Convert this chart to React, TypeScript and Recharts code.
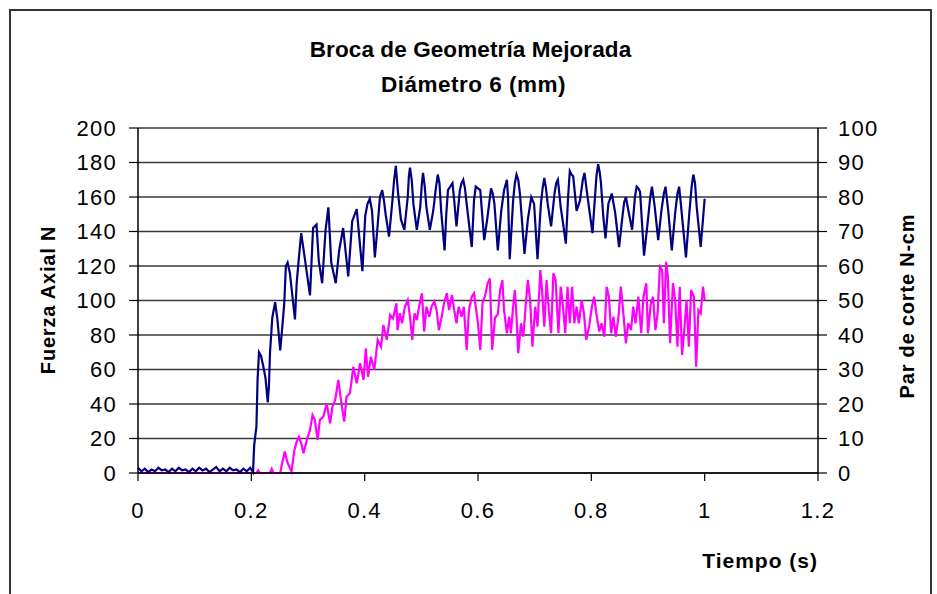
import React from "react";
import { LineChart, Line, XAxis, YAxis, CartesianGrid } from "recharts";

// ---- Text ----
const chartTitle = "Broca de Geometría Mejorada";
const chartSubtitle = "Diámetro 6 (mm)";
const xTitle = "Tiempo (s)";
const leftTitle = "Fuerza Axial N";
const rightTitle = "Par de corte N-cm";

// ---- Ticks ----
const xTicks = [0, 0.2, 0.4, 0.6, 0.8, 1, 1.2];
const leftTicks = [0, 20, 40, 60, 80, 100, 120, 140, 160, 180, 200];
const rightTicks = [0, 10, 20, 30, 40, 50, 60, 70, 80, 90, 100];

// ---- Fuerza Axial (N): [tiempo (s), fuerza] ----
const fuerzaAxial: [number, number][] = [
  [0, 3], [0.006, 1], [0.012, 2.5], [0.018, 0.5], [0.024, 2], [0.03, 1], [0.036, 3], [0.042, 1.5],
  [0.048, 2], [0.054, 0.5], [0.06, 2.5], [0.066, 1], [0.072, 3], [0.078, 1.5], [0.084, 2], [0.09, 0.5],
  [0.096, 2.5], [0.102, 1], [0.108, 3], [0.114, 1.5], [0.12, 2.5], [0.126, 0.5], [0.132, 2], [0.138, 3.5],
  [0.144, 1], [0.15, 2.5], [0.156, 1], [0.162, 3], [0.168, 1.5], [0.174, 2], [0.18, 0.5], [0.186, 2.5],
  [0.192, 1], [0.198, 3], [0.203, 0.5], [0.205, 16], [0.209, 27], [0.211, 54], [0.2135, 70], [0.217, 68],
  [0.221, 62], [0.225, 55], [0.229, 41], [0.231, 50], [0.233, 70], [0.237, 90], [0.242, 99], [0.246, 89],
  [0.251, 71], [0.255, 86], [0.258, 98], [0.261, 120], [0.264, 122], [0.268, 116], [0.272, 104], [0.277, 89],
  [0.28, 110], [0.284, 125], [0.288, 139], [0.295, 123], [0.3035, 103], [0.309, 142], [0.315, 144],
  [0.319, 123], [0.325, 110], [0.331, 141], [0.336, 154], [0.341, 122], [0.349, 110], [0.355, 129],
  [0.362, 142], [0.371, 114], [0.378, 146], [0.386, 153], [0.396, 117], [0.401, 149], [0.405, 156],
  [0.409, 159], [0.413, 152], [0.418, 125], [0.422, 140], [0.427, 160], [0.431, 164], [0.434, 158],
  [0.437, 150], [0.443, 137], [0.449, 158], [0.452, 170], [0.455, 178], [0.457, 170], [0.459, 162],
  [0.464, 147], [0.47, 141], [0.476, 160], [0.478, 172], [0.48, 177], [0.483, 170], [0.486, 156],
  [0.492, 141], [0.498, 154], [0.501, 168], [0.503, 174], [0.506, 166], [0.509, 154], [0.515, 141],
  [0.521, 152], [0.526, 166], [0.529, 173], [0.532, 168], [0.535, 152], [0.541, 129], [0.544, 150],
  [0.547, 164], [0.551, 166], [0.555, 168], [0.558, 158], [0.562, 143], [0.568, 164], [0.571, 168],
  [0.574, 170], [0.577, 165], [0.58, 156], [0.589, 131], [0.593, 158], [0.596, 166], [0.6, 165],
  [0.604, 164], [0.611, 135], [0.617, 149], [0.623, 165], [0.626, 162], [0.629, 156], [0.635, 129],
  [0.641, 152], [0.646, 164], [0.651, 170], [0.653, 160], [0.656, 124], [0.662, 158], [0.665, 168],
  [0.668, 173], [0.671, 170], [0.674, 162], [0.682, 127], [0.688, 147], [0.694, 160], [0.699, 156],
  [0.705, 124], [0.711, 156], [0.714, 165], [0.717, 171], [0.72, 165], [0.723, 156], [0.729, 143],
  [0.735, 162], [0.738, 168], [0.741, 170], [0.746, 154], [0.75, 145], [0.755, 133], [0.759, 160],
  [0.762, 175], [0.765, 173], [0.768, 172], [0.774, 152], [0.78, 158], [0.785, 170], [0.788, 174],
  [0.791, 166], [0.795, 156], [0.802, 139], [0.806, 158], [0.809, 172], [0.812, 179], [0.815, 174],
  [0.817, 168], [0.821, 149], [0.825, 136], [0.83, 156], [0.836, 162], [0.842, 151], [0.849, 131],
  [0.855, 149], [0.858, 157], [0.861, 160], [0.866, 151], [0.872, 141], [0.877, 160], [0.88, 166],
  [0.883, 165], [0.886, 163], [0.893, 126], [0.9, 147], [0.904, 160], [0.907, 166], [0.912, 154],
  [0.918, 135], [0.924, 153], [0.928, 162], [0.931, 166], [0.936, 151], [0.942, 129], [0.948, 151],
  [0.952, 162], [0.955, 166], [0.96, 149], [0.967, 125], [0.973, 151], [0.977, 166], [0.98, 173],
  [0.983, 168], [0.986, 154], [0.993, 131], [0.998, 151], [1.0, 159],
];

// ---- Par de corte (N-cm): [tiempo (s), par] ----
const parCorte: [number, number][] = [
  [0, 0], [0.05, 0], [0.1, 0], [0.15, 0], [0.2, 0], [0.209, 0], [0.212, 0.8], [0.215, 0], [0.233, 0],
  [0.236, 1.2], [0.239, 0], [0.251, 0], [0.255, 3.3], [0.259, 6.2], [0.264, 2.9], [0.271, 0.4],
  [0.276, 6.7], [0.28, 9.1], [0.284, 10.5], [0.288, 8.6], [0.292, 5.7], [0.298, 9.6], [0.3035, 12.5],
  [0.308, 16.8], [0.312, 15.4], [0.317, 9.6], [0.321, 15.4], [0.327, 16.3], [0.333, 20.2], [0.339, 14.4],
  [0.343, 19.2], [0.348, 21.2], [0.3535, 27], [0.359, 20.2], [0.364, 14.9], [0.368, 22.1], [0.374, 23.1],
  [0.38, 30.8], [0.386, 26], [0.392, 31.8], [0.398, 27], [0.402, 36.1], [0.406, 27.9], [0.411, 33.7],
  [0.417, 29.9], [0.423, 38.6], [0.429, 36.6], [0.433, 42.9], [0.439, 38.6], [0.445, 45.8], [0.45, 44.8],
  [0.456, 49.2], [0.458, 41.4], [0.462, 46.3], [0.466, 43.4], [0.471, 48.2], [0.476, 50.1], [0.48, 45.3],
  [0.484, 38.6], [0.488, 46.3], [0.492, 44.3], [0.496, 48.2], [0.501, 52.1], [0.505, 41], [0.509, 48.2],
  [0.514, 45.3], [0.518, 48.2], [0.523, 49.7], [0.527, 47.2], [0.531, 41.4], [0.536, 45.3], [0.54, 49.2],
  [0.545, 52.1], [0.549, 47.2], [0.554, 51.6], [0.558, 47.2], [0.562, 43.4], [0.566, 48.2], [0.571, 45.3],
  [0.575, 48.2], [0.58, 35.7], [0.584, 47.2], [0.589, 51.1], [0.593, 52.1], [0.596, 48.2], [0.6, 43.4],
  [0.604, 35.7], [0.608, 49.2], [0.612, 51.1], [0.617, 55], [0.621, 56.4], [0.625, 35.7], [0.63, 45],
  [0.635, 46], [0.639, 53], [0.643, 55.9], [0.646, 47.2], [0.651, 40.5], [0.655, 45.3], [0.658, 40.5],
  [0.662, 48.2], [0.665, 53], [0.668, 45.3], [0.671, 34.7], [0.676, 43.4], [0.68, 39.5], [0.684, 48.2],
  [0.688, 55.9], [0.692, 50.1], [0.696, 36.6], [0.701, 48.2], [0.705, 42.4], [0.71, 58.8], [0.713, 53],
  [0.717, 42.4], [0.721, 55.9], [0.725, 47.2], [0.729, 40.5], [0.733, 57.9], [0.737, 55.9], [0.742, 40.5],
  [0.746, 54], [0.75, 48.2], [0.754, 40.5], [0.758, 54], [0.762, 43.4], [0.766, 54], [0.77, 43.4],
  [0.774, 48.2], [0.778, 43.4], [0.783, 50.1], [0.787, 46.3], [0.791, 38.6], [0.796, 42.4], [0.801, 48.2],
  [0.805, 51.1], [0.809, 46], [0.814, 41], [0.818, 43.4], [0.823, 39.5], [0.827, 54], [0.831, 51.1],
  [0.835, 40.5], [0.839, 45.3], [0.843, 39.5], [0.848, 45.3], [0.852, 54], [0.856, 47.2], [0.861, 37.6],
  [0.865, 43.4], [0.87, 41.4], [0.874, 48.2], [0.878, 43.4], [0.883, 51.1], [0.888, 40.5], [0.892, 51.1],
  [0.897, 55], [0.9, 40.5], [0.905, 49.2], [0.909, 51.1], [0.913, 41.4], [0.917, 46.3], [0.921, 59.8],
  [0.925, 58.8], [0.928, 43.4], [0.932, 61.2], [0.935, 56.9], [0.939, 37.6], [0.944, 55], [0.948, 50.1],
  [0.952, 36.6], [0.956, 54], [0.96, 34.2], [0.964, 41.4], [0.968, 50.1], [0.972, 36.6], [0.976, 53],
  [0.981, 51.1], [0.985, 30.8], [0.989, 47.2], [0.993, 46.3], [0.997, 54], [1.0, 50.1],
];

const fuerzaData = fuerzaAxial.map(([t, v]) => ({ t, v }));
const parData = parCorte.map(([t, v]) => ({ t, v }));

const FONT = "'Liberation Sans', Arial, sans-serif";

const LeftTick = (props: any) => {
  const { x, y, payload } = props;
  return (
    <text x={x} y={y} dy="0.36em" textAnchor="end" fontFamily={FONT} fontSize={22} letterSpacing={1.3} fill="#000">
      {String(payload.value)}
    </text>
  );
};
const RightTick = (props: any) => {
  const { x, y, payload } = props;
  return (
    <text x={x} y={y} dy="0.36em" textAnchor="start" fontFamily={FONT} fontSize={22} letterSpacing={1.3} fill="#000">
      {String(payload.value)}
    </text>
  );
};
const BottomTick = (props: any) => {
  const { x, y, payload } = props;
  return (
    <text x={x} y={y} dy="0.71em" textAnchor="middle" fontFamily={FONT} fontSize={22} letterSpacing={1.3} fill="#000">
      {String(payload.value)}
    </text>
  );
};

const boldText: React.CSSProperties = {
  position: "absolute",
  fontFamily: FONT,
  fontWeight: "bold",
  color: "#000",
  whiteSpace: "nowrap",
  lineHeight: 1,
};

export default function App() {
  return (
    <div
      style={{
        position: "absolute",
        left: 0,
        top: 0,
        width: 937,
        height: 594,
        overflow: "hidden",
        background: "#fff",
      }}
    >
      <div
        style={{
          position: "absolute",
          left: 9,
          top: 9,
          width: 919,
          height: 700,
          border: "2px solid #333",
        }}
      />
      <LineChart
        width={937}
        height={594}
        margin={{ top: 128, right: 20, bottom: 61, left: 20 }}
        style={{ position: "absolute", left: 0, top: 0 }}
      >
        <CartesianGrid yAxisId="left" vertical={false} stroke="#3a3a3a" strokeWidth={1.3} />
        <XAxis
          type="number"
          dataKey="t"
          domain={[0, 1.2]}
          ticks={xTicks}
          height={60}
          tickSize={8}
          tickMargin={21}
          axisLine={{ stroke: "#000", strokeWidth: 1.5 }}
          tickLine={{ stroke: "#000", strokeWidth: 1.2 }}
          tick={<BottomTick />}
          interval={0}
        />
        <YAxis
          yAxisId="left"
          type="number"
          domain={[0, 200]}
          ticks={leftTicks}
          width={118}
          tickSize={9}
          tickMargin={12}
          axisLine={{ stroke: "#000", strokeWidth: 1.5 }}
          tickLine={{ stroke: "#000", strokeWidth: 1.2 }}
          tick={<LeftTick />}
          interval={0}
        />
        <YAxis
          yAxisId="right"
          orientation="right"
          type="number"
          domain={[0, 100]}
          ticks={rightTicks}
          width={99}
          tickSize={9}
          tickMargin={11}
          axisLine={{ stroke: "#000", strokeWidth: 1.5 }}
          tickLine={{ stroke: "#000", strokeWidth: 1.2 }}
          tick={<RightTick />}
          interval={0}
        />
        <Line
          yAxisId="right"
          data={parData}
          dataKey="v"
          type="linear"
          stroke="#FF00FF"
          strokeWidth={2.2}
          dot={false}
          isAnimationActive={false}
        />
        <Line
          yAxisId="left"
          data={fuerzaData}
          dataKey="v"
          type="linear"
          stroke="#000080"
          strokeWidth={2.2}
          dot={false}
          isAnimationActive={false}
        />
      </LineChart>
      <div style={{ ...boldText, left: 0, width: 941, top: 39, fontSize: 22.5, letterSpacing: 0.1, textAlign: "center" }}>
        {chartTitle}
      </div>
      <div style={{ ...boldText, left: 0, width: 947, top: 74, fontSize: 22.5, letterSpacing: 0.5, textAlign: "center" }}>
        {chartSubtitle}
      </div>
      <div style={{ ...boldText, left: 618, width: 200, top: 550, fontSize: 21, letterSpacing: 1, textAlign: "right" }}>
        {xTitle}
      </div>
      <div
        style={{
          ...boldText,
          left: 48 - 100,
          width: 200,
          top: 300 - 10,
          fontSize: 20,
          letterSpacing: 0.8,
          textAlign: "center",
          transform: "rotate(-90deg)",
          transformOrigin: "100px 10px",
          height: 20,
        }}
      >
        {leftTitle}
      </div>
      <div
        style={{
          ...boldText,
          left: 907 - 100,
          width: 200,
          top: 306 - 10,
          fontSize: 20,
          letterSpacing: 0.8,
          textAlign: "center",
          transform: "rotate(-90deg)",
          transformOrigin: "100px 10px",
          height: 20,
        }}
      >
        {rightTitle}
      </div>
    </div>
  );
}
